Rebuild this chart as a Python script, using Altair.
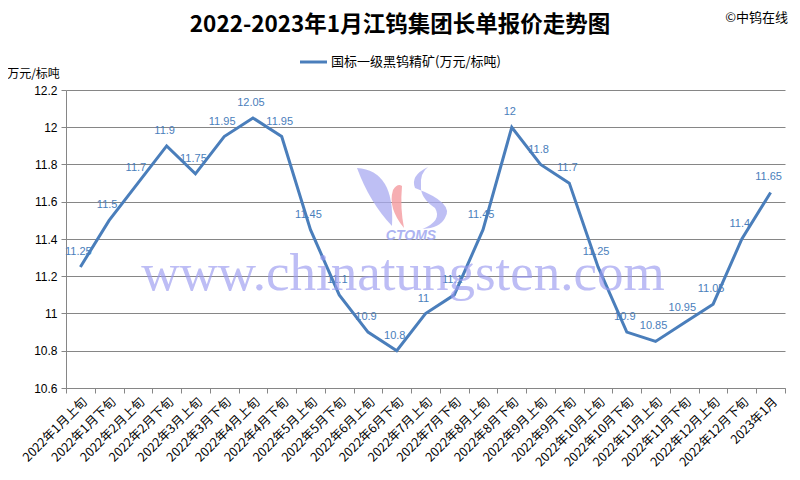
import altair as alt
import pandas as pd

periods = ["2022年1月上旬", "2022年1月下旬", "2022年2月上旬", "2022年2月下旬",
           "2022年3月上旬", "2022年3月下旬", "2022年4月上旬", "2022年4月下旬",
           "2022年5月上旬", "2022年5月下旬", "2022年6月上旬", "2022年6月下旬",
           "2022年7月上旬", "2022年7月下旬", "2022年8月上旬", "2022年8月下旬",
           "2022年9月上旬", "2022年9月下旬", "2022年10月上旬", "2022年10月下旬",
           "2022年11月上旬", "2022年11月下旬", "2022年12月上旬", "2022年12月下旬",
           "2023年1月"]
prices = [11.25, 11.5, 11.7, 11.9, 11.75, 11.95, 12.05, 11.95, 11.45, 11.1,
          10.9, 10.8, 11.0, 11.1, 11.45, 12.0, 11.8, 11.7, 11.25, 10.9,
          10.85, 10.95, 11.05, 11.4, 11.65]
y_ticks = [10.6, 10.8, 11.0, 11.2, 11.4, 11.6, 11.8, 12.0, 12.2]
series_name = "国标一级黑钨精矿(万元/标吨)"
title_text = "2022-2023年1月江钨集团长单报价走势图"

df = pd.DataFrame({"period": periods, "price": prices,
                   "lbl": [f"{p:g}" for p in prices]})

LINE = "#4a7ebb"
GRID = "#868686"
W, H = 719, 298

xenc = alt.X("period:N", sort=periods,
             scale=alt.Scale(type="band", paddingInner=0, paddingOuter=0),
             axis=alt.Axis(title=None, labelAngle=-45, labelAlign="right",
                           labelBaseline="top", labelFontSize=12.5,
                           labelFont="Noto Sans CJK SC", labelColor="#000000",
                           labelPadding=2, tickBand="extent", tickSize=5,
                           tickColor=GRID, domainColor=GRID, grid=False,
                           labelOverlap=False))
yenc = alt.Y("price:Q", scale=alt.Scale(domain=[10.6, 12.2], nice=False, zero=False),
             axis=alt.Axis(values=y_ticks, labelExpr="format(datum.value, '~g')",
                           labelOverlap=False,
                           title="万元/标吨", titleAngle=0, titleX=-33, titleY=-17,
                           titleAlign="center", titleBaseline="middle",
                           titleFontSize=12, titleFontWeight="normal",
                           titleFont="Noto Sans CJK SC", titleColor="#000000",
                           labelFontSize=12, labelFont="Liberation Sans",
                           labelColor="#000000", labelPadding=4,
                           tickSize=5, tickColor=GRID, domainColor=GRID,
                           gridColor=GRID, gridWidth=1))

base = alt.Chart(df)
line = base.mark_line(color=LINE, strokeWidth=3).encode(x=xenc, y=yenc)
labels = base.mark_text(color=LINE, fontSize=11, font="Liberation Sans",
                        dy=-15, dx=-2, baseline="middle").encode(
    x=xenc, y=yenc, text="lbl:N")

ann = pd.DataFrame({"k": [0]})
a = alt.Chart(ann)
title = a.mark_text(text=title_text, fontSize=22.5, fontWeight="bold",
                    font="Noto Sans CJK SC", color="#000000",
                    align="center", baseline="middle").encode(
    x=alt.value(334), y=alt.value(-65))
copy = a.mark_text(text="©中钨在线", fontSize=13, font="Noto Sans CJK SC",
                   color="#000000", align="right", baseline="middle").encode(
    x=alt.value(722), y=alt.value(-72))
leg_line = a.mark_rule(color=LINE, strokeWidth=3).encode(
    x=alt.value(234), x2=alt.value(261), y=alt.value(-28))
leg_text = a.mark_text(text=series_name, fontSize=13, font="Noto Sans CJK SC",
                       color="#000000", align="left", baseline="middle").encode(
    x=alt.value(265), y=alt.value(-28))

wm = a.mark_text(text="www.chinatungsten.com", fontSize=53, font="Liberation Serif",
                 color="#9a9af0", opacity=0.65, align="center",
                 baseline="alphabetic").encode(x=alt.value(337), y=alt.value(200))
ctoms = a.mark_text(text="CTOMS", fontSize=14, font="Liberation Sans",
                    fontWeight="bold", fontStyle="italic", color="#a0a8f0",
                    opacity=0.85, align="center", baseline="middle").encode(
    x=alt.value(345), y=alt.value(146))
LX, LY = 339, 108
left_flame = a.mark_point(
    shape="M -0.96 -0.6 Q -0.2 -0.55 -0.26 0.56 Q -0.7 0.1 -0.96 -0.6 Z",
    filled=True, color="#a8aaf0", opacity=0.75, size=10000,
    strokeWidth=0).encode(x=alt.value(LX), y=alt.value(LY))
red_flame = a.mark_point(
    shape="M -0.24 -0.16 Q -0.15 -0.3 -0.06 -0.24 Q -0.1 0.2 -0.02 0.6 Q -0.35 0.2 -0.24 -0.16 Z",
    filled=True, color="#f5a0a5", opacity=0.85, size=10000,
    strokeWidth=0).encode(x=alt.value(LX), y=alt.value(LY))
right_flame = a.mark_point(
    shape="M 0.46 -0.62 Q 0.1 -0.45 0.2 -0.2 Q 1.0 0.1 0.8 0.4 Q 0.7 0.6 0.35 0.62 Q 0.75 0.45 0.6 0.2 Q 0.3 0.0 0.32 -0.25 Q 0.3 -0.5 0.46 -0.62 Z",
    filled=True, color="#a8aaf0", opacity=0.75, size=10000,
    strokeWidth=0).encode(x=alt.value(LX), y=alt.value(LY))

chart = alt.layer(line, labels, left_flame, red_flame, right_flame, ctoms, wm,
                  title, copy, leg_line, leg_text).properties(
    width=W, height=H,
    autosize=alt.AutoSizeParams(type="none"),
    padding={"left": 58, "top": 82, "right": 7, "bottom": 84},
    background="white",
).configure_view(stroke=None)

chart.save("out.html", embed_options={"renderer": "svg", "actions": False})
